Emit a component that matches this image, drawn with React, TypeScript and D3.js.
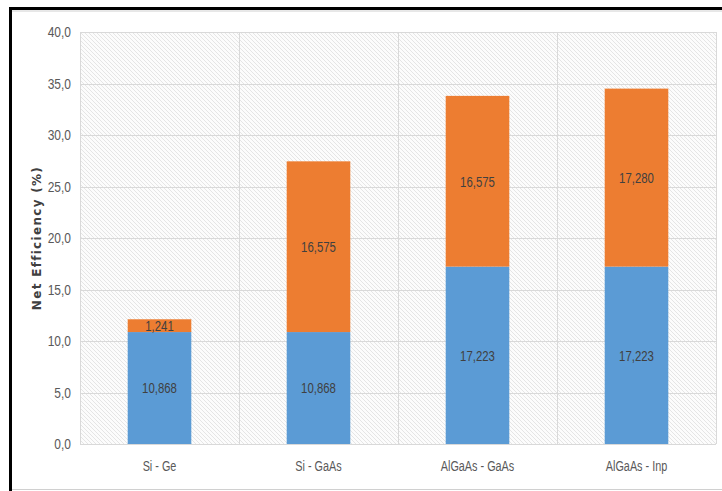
import React from "react";
import * as d3 from "d3";

const categories = ["Si - Ge", "Si - GaAs", "AlGaAs - GaAs", "AlGaAs - Inp"];
const bottomValues = [10.868, 10.868, 17.223, 17.223];
const topValues = [1.241, 16.575, 16.575, 17.28];
const yTicks = [0, 5, 10, 15, 20, 25, 30, 35, 40];

const W = 722;
const H = 491;
const M = { left: 80, right: 6, top: 32, bottom: 47 };
const FONT = "'Liberation Sans', Arial, sans-serif";

const fmt = (v: number, d: number) => v.toFixed(d).replace(".", ",");

function NarrowText(props: {
  x: number;
  y: number;
  sx: number;
  size: number;
  anchor: "start" | "middle" | "end";
  fill: string;
  children: React.ReactNode;
}) {
  return (
    <text
      transform={`translate(${props.x},${props.y}) scale(${props.sx},1)`}
      dy="0.35em"
      textAnchor={props.anchor}
      fontFamily={FONT}
      fontSize={props.size}
      fill={props.fill}
    >
      {props.children}
    </text>
  );
}

export default function App() {
  const x = d3.scaleBand<string>().domain(categories).range([M.left, W - M.right]).paddingInner(0).paddingOuter(0);
  const y = d3.scaleLinear().domain([0, 40]).range([H - M.bottom, M.top]);
  const barW = x.bandwidth() * 0.4;
  const stacked = categories.map((c, i) => ({ c, b: bottomValues[i], t: topValues[i] }));

  return (
    <svg width={W} height={H} style={{ display: "block", position: "absolute", left: 0, top: 0 }}>
      <defs>
        <pattern id="hatch" patternUnits="userSpaceOnUse" width={4} height={4}>
          <rect width={4} height={4} fill="#fcfcfc" />
          <path d="M-1,-1 L5,5 M-1,3 L1,5 M3,-1 L5,1" stroke="#e0e0e0" strokeWidth={0.85} />
        </pattern>
      </defs>
      <rect x={0} y={0} width={W} height={H} fill="#fff" />
      {/* frame */}
      <line x1={10} y1={8.5} x2={W} y2={8.5} stroke="#000" strokeWidth={3} />
      <line x1={10.5} y1={7} x2={10.5} y2={H} stroke="#000" strokeWidth={3} />
      <line x1={12} y1={11} x2={W} y2={11} stroke="#d0d0d0" strokeWidth={1} />
      <line x1={12} y1={489.5} x2={W} y2={489.5} stroke="#d0d0d0" strokeWidth={1} />
      {/* plot background */}
      <rect x={M.left} y={M.top} width={W - M.right - M.left} height={H - M.bottom - M.top} fill="url(#hatch)" />
      {/* horizontal grid */}
      {yTicks.map((t) => (
        <line key={t} x1={M.left} x2={W - M.right} y1={Math.round(y(t)) + 0.5} y2={Math.round(y(t)) + 0.5} stroke="#d9d9d9" strokeWidth={1} />
      ))}
      {/* vertical grid */}
      {categories.map((c) => (
        <line key={c} x1={Math.round(x(c)!) + 0.5} x2={Math.round(x(c)!) + 0.5} y1={M.top} y2={H - M.bottom} stroke="#d9d9d9" />
      ))}
      <line x1={W - M.right + 0.5} x2={W - M.right + 0.5} y1={M.top} y2={H - M.bottom} stroke="#d9d9d9" />
      {/* bars */}
      {stacked.map((d) => {
        const cx = x(d.c)! + x.bandwidth() / 2;
        return (
          <g key={d.c}>
            <rect x={cx - barW / 2} width={barW} y={y(d.b)} height={y(0) - y(d.b)} fill="#5B9BD5" />
            <rect x={cx - barW / 2} width={barW} y={y(d.b + d.t)} height={y(d.b) - y(d.b + d.t)} fill="#ED7D31" />
            <NarrowText x={cx} y={y(d.b / 2)} sx={0.76} size={15} anchor="middle" fill="#404040">
              {fmt(d.b, 3)}
            </NarrowText>
            <NarrowText x={cx} y={y(d.b + d.t / 2)} sx={0.76} size={15} anchor="middle" fill="#404040">
              {fmt(d.t, 3)}
            </NarrowText>
          </g>
        );
      })}
      {/* y tick labels */}
      {yTicks.map((t) => (
        <NarrowText key={t} x={M.left - 9} y={y(t)} sx={0.8} size={15} anchor="end" fill="#595959">
          {fmt(t, 1)}
        </NarrowText>
      ))}
      {/* x labels */}
      {categories.map((c) => (
        <NarrowText key={c} x={x(c)! + x.bandwidth() / 2} y={466} sx={0.7} size={15.5} anchor="middle" fill="#595959">
          {c}
        </NarrowText>
      ))}
      {/* y axis title */}
      <text
        transform={`translate(37,238) rotate(-90)`}
        textAnchor="middle"
        dy="0.35em"
        fontFamily="'DejaVu Sans', sans-serif"
        fontWeight="bold"
        fontSize={12}
        letterSpacing={1.3}
        fill="#404040"
      >
        Net Efficiency (%)
      </text>
    </svg>
  );
}
